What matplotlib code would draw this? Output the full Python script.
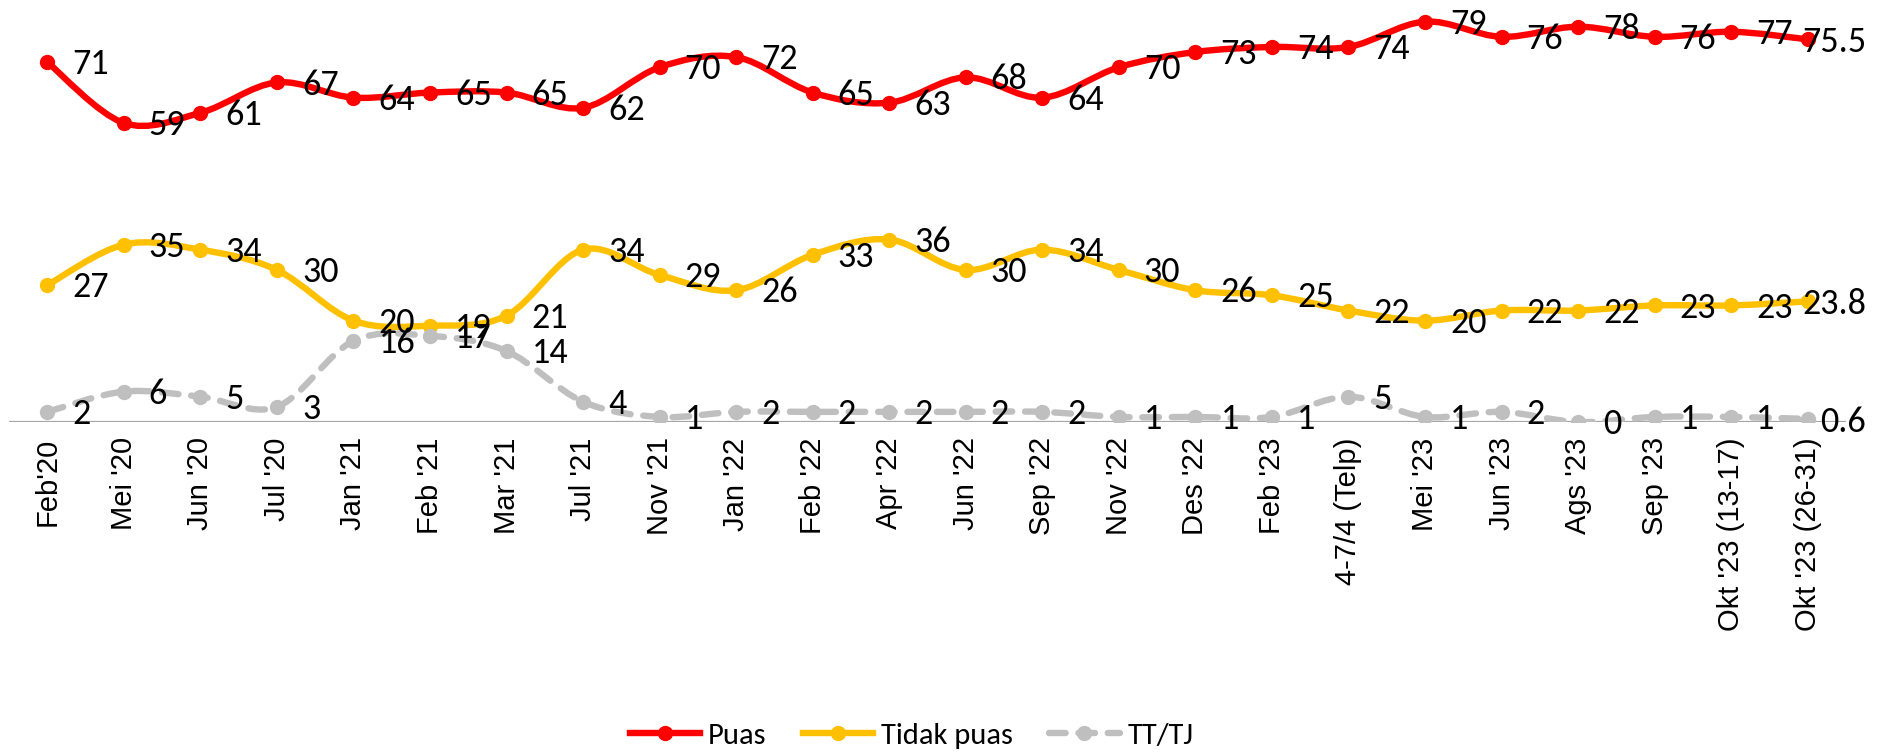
import matplotlib
matplotlib.use("Agg")
import matplotlib.pyplot as plt
from matplotlib.path import Path
from matplotlib.patches import PathPatch
from matplotlib.lines import Line2D

# survey waves
categories = ["Feb'20", "Mei '20", "Jun '20", "Jul '20", "Jan '21", "Feb '21", "Mar '21",
              "Jul '21", "Nov '21", "Jan '22", "Feb '22", "Apr '22", "Jun '22", "Sep '22",
              "Nov '22", "Des '22", "Feb '23", "4-7/4 (Telp)", "Mei '23", "Jun '23",
              "Ags '23", "Sep '23", "Okt '23 (13-17)", "Okt '23 (26-31)"]

puas = [71, 59, 61, 67, 64, 65, 65, 62, 70, 72, 65, 63, 68, 64, 70, 73, 74, 74, 79, 76,
        78, 76, 77, 75.5]
tidak_puas = [27, 35, 34, 30, 20, 19, 21, 34, 29, 26, 33, 36, 30, 34, 30, 26, 25, 22, 20,
              22, 22, 23, 23, 23.8]
tt_tj = [2, 6, 5, 3, 16, 17, 14, 4, 1, 2, 2, 2, 2, 2, 1, 1, 1, 5, 1, 2, 0, 1, 1, 0.6]

label_font = ["Carlito", "Liberation Sans"]


def smooth_path(xs, ys):
    # excel-like smoothed line: catmull-rom segments as cubic beziers
    pts = list(zip(xs, ys))
    n = len(pts)
    verts = [pts[0]]
    codes = [Path.MOVETO]
    for i in range(n - 1):
        p0 = pts[max(i - 1, 0)]
        p1 = pts[i]
        p2 = pts[i + 1]
        p3 = pts[min(i + 2, n - 1)]
        c1 = (p1[0] + (p2[0] - p0[0]) / 6, p1[1] + (p2[1] - p0[1]) / 6)
        c2 = (p2[0] - (p3[0] - p1[0]) / 6, p2[1] - (p3[1] - p1[1]) / 6)
        verts += [c1, c2, p2]
        codes += [Path.CURVE4] * 3
    return Path(verts, codes)


fig = plt.figure(figsize=(18.91, 7.56), dpi=100)
ax = fig.add_axes([9 / 1891, 1 - 422 / 756, 1837 / 1891, 409 / 756])

x = list(range(len(categories)))
series = [
    (puas, "#FF0000", "-", "Puas"),
    (tidak_puas, "#FFC000", "-", "Tidak puas"),
    (tt_tj, "#BFBFBF", "--", "TT/TJ"),
]

handles = []
for vals, col, ls, name in series:
    patch = PathPatch(smooth_path(x, vals), facecolor="none", edgecolor=col, lw=4.6,
                      capstyle="round", zorder=3)
    if ls == "--":
        patch.set_linestyle((0, (2.6, 2.0)))
    ax.add_patch(patch)
    ax.plot(x, vals, ls="none", marker="o", ms=10, color=col, zorder=4)
    for i, v in enumerate(vals):
        txt = f"{v:g}"
        if i < len(vals) - 1:
            ax.annotate(txt, (i, v), xytext=(18, -1.5), textcoords="offset points",
                        ha="left", va="center", fontsize=26, family=label_font,
                        color="black", zorder=5)
        else:
            # last label pushed back inside the chart like excel does
            ax.annotate(txt, (i, v), xytext=(42, -2), textcoords="offset points",
                        ha="right", va="center", fontsize=26, family=label_font,
                        color="black", zorder=5)
    h = Line2D([], [], color=col, lw=4.6, marker="o", ms=10, label=name,
               dash_capstyle="round")
    if ls == "--":
        h.set_linestyle((0, (2.6, 2.0)))
    handles.append(h)

ax.set_xlim(-0.5, len(categories) - 0.5)
ax.set_ylim(0, 80.7)
ax.axhline(0, color="#A6A6A6", lw=1.6, zorder=2)
for s in ax.spines.values():
    s.set_visible(False)
ax.set_yticks([])
ax.set_xticks(x)
ax.set_xticklabels(categories, rotation=90, fontsize=21, family="Liberation Sans")
ax.tick_params(axis="x", length=0, pad=11)

fig.legend(handles=handles, loc="center", bbox_to_anchor=(0.482, 0.027), ncol=3,
           frameon=False, handlelength=2.3, columnspacing=1.2, handletextpad=0.25,
           prop={"family": label_font, "size": 22})

fig.savefig("out.png", dpi=100)
